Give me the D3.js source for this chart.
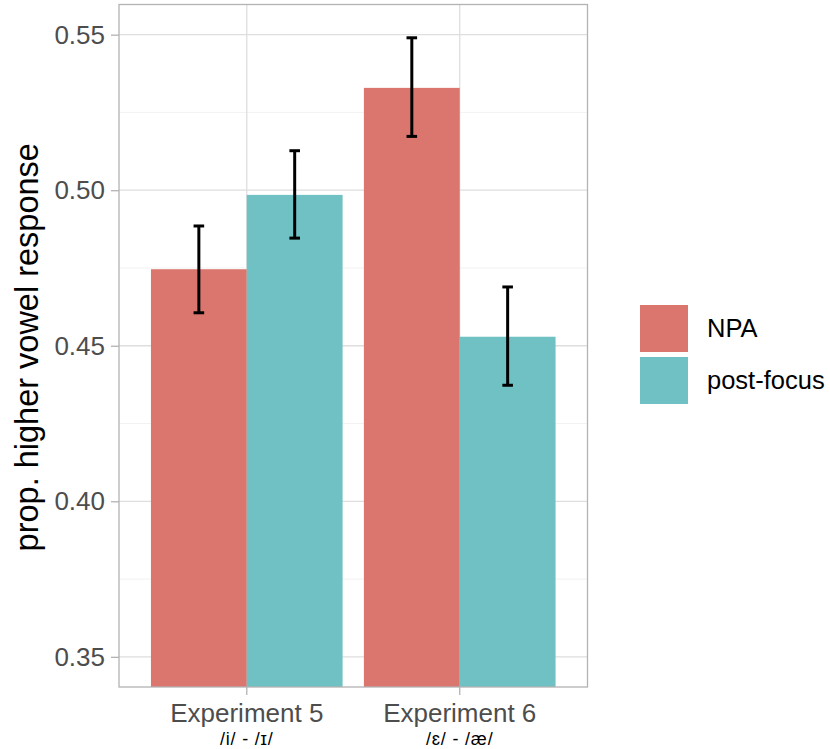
<!DOCTYPE html>
<html><head><meta charset="utf-8">
<script src="https://cdn.jsdelivr.net/npm/d3@7"></script>
<style>body{margin:0;background:#fff;} svg{display:block;font-family:"Liberation Sans",Arial,Helvetica,sans-serif;}</style>
</head><body>
<svg id="chart" width="830" height="749"></svg>
<script>
const categories = ["Experiment 5", "Experiment 6"];
const subLabels = ["/i/ - /ɪ/", "/ɛ/ - /æ/"];
const groups = ["NPA", "post-focus"];
const npaValues = [0.4746, 0.5329];
const npaLow = [0.4606, 0.5173];
const npaHigh = [0.4885, 0.5490];
const pfValues = [0.4985, 0.4529];
const pfLow = [0.4846, 0.4373];
const pfHigh = [0.5127, 0.4689];
const yTicks = [0.35, 0.40, 0.45, 0.50, 0.55];
const yMinor = [0.375, 0.425, 0.475, 0.525];
const colors = ["#da766d", "#6fc1c4"];

const data = [];
categories.forEach((c, i) => {
  data.push({cat: c, grp: groups[0], v: npaValues[i], lo: npaLow[i], hi: npaHigh[i]});
  data.push({cat: c, grp: groups[1], v: pfValues[i], lo: pfLow[i], hi: pfHigh[i]});
});

const svg = d3.select("#chart");
const P = {left: 119, right: 587.5, top: 4.5, bottom: 687};

const y = d3.scaleLinear().domain([0.3403, 0.5597]).range([P.bottom, P.top]);
const x = d3.scaleBand().domain(categories).range([P.left, P.right]).paddingInner(0.1).paddingOuter(0.15);
const xg = d3.scaleBand().domain(groups).range([0, x.bandwidth()]).padding(0);
const color = d3.scaleOrdinal().domain(groups).range(colors);

svg.append("defs").append("clipPath").attr("id", "clip")
  .append("rect").attr("x", P.left).attr("y", P.top).attr("width", P.right - P.left).attr("height", P.bottom - P.top);

const grid = svg.append("g");
grid.selectAll("line.minor").data(yMinor).join("line")
  .attr("x1", P.left).attr("x2", P.right)
  .attr("y1", d => y(d)).attr("y2", d => y(d))
  .attr("stroke", "#ececec").attr("stroke-width", 0.7);
grid.selectAll("line.major").data(yTicks).join("line")
  .attr("x1", P.left).attr("x2", P.right)
  .attr("y1", d => y(d)).attr("y2", d => y(d))
  .attr("stroke", "#dedede").attr("stroke-width", 1.3);
grid.selectAll("line.vmajor").data(categories).join("line")
  .attr("x1", d => x(d) + x.bandwidth() / 2).attr("x2", d => x(d) + x.bandwidth() / 2)
  .attr("y1", P.top).attr("y2", P.bottom)
  .attr("stroke", "#dedede").attr("stroke-width", 1.3);

const plot = svg.append("g").attr("clip-path", "url(#clip)");
plot.selectAll("rect.bar").data(data).join("rect")
  .attr("x", d => x(d.cat) + xg(d.grp))
  .attr("width", xg.bandwidth())
  .attr("y", d => y(d.v))
  .attr("height", d => P.bottom + 10 - y(d.v))
  .attr("fill", d => color(d.grp));

const eb = svg.append("g").attr("stroke", "#000").attr("stroke-width", 3);
const cap = 5.3;
data.forEach(d => {
  const cx = x(d.cat) + xg(d.grp) + xg.bandwidth() / 2;
  eb.append("line").attr("x1", cx).attr("x2", cx).attr("y1", y(d.hi)).attr("y2", y(d.lo));
  eb.append("line").attr("x1", cx - cap).attr("x2", cx + cap).attr("y1", y(d.hi)).attr("y2", y(d.hi));
  eb.append("line").attr("x1", cx - cap).attr("x2", cx + cap).attr("y1", y(d.lo)).attr("y2", y(d.lo));
});

svg.append("rect").attr("x", P.left).attr("y", P.top)
  .attr("width", P.right - P.left).attr("height", P.bottom - P.top)
  .attr("fill", "none").attr("stroke", "#b3b3b3").attr("stroke-width", 1.3);

// Y axis
const yAxis = svg.append("g").attr("transform", `translate(${P.left},0)`)
  .call(d3.axisLeft(y).tickValues(yTicks).tickFormat(d3.format(".2f")).tickSize(8).tickPadding(6));
yAxis.select(".domain").remove();
yAxis.selectAll(".tick line").attr("stroke", "#b3b3b3").attr("stroke-width", 1.3);
yAxis.selectAll(".tick text").attr("fill", "#4d4d4d").style("font-size", "26px")
  .style("font-family", "Liberation Sans, Arial, sans-serif");

// X axis
const xAxis = svg.append("g").attr("transform", `translate(0,${P.bottom})`)
  .call(d3.axisBottom(x).tickSize(8).tickPadding(6));
xAxis.select(".domain").remove();
xAxis.selectAll(".tick line").attr("stroke", "#b3b3b3").attr("stroke-width", 1.3);
xAxis.selectAll(".tick text").attr("fill", "#4d4d4d").style("font-size", "26px")
  .style("font-family", "Liberation Sans, Arial, sans-serif").attr("dy", "0.71em").attr("y", 17);
xAxis.selectAll(".tick").append("text")
  .attr("y", 57.5).attr("fill", "#000").attr("text-anchor", "middle")
  .style("font-size", "18px").style("font-family", "Liberation Sans, Arial, sans-serif")
  .attr("letter-spacing", "0.8px")
  .text((d, i) => subLabels[i]);

// Y title
svg.append("text")
  .attr("transform", `translate(38,${(P.top + P.bottom) / 2 + 1.5}) rotate(-90)`)
  .attr("text-anchor", "middle").attr("fill", "#000")
  .style("font-size", "32.5px")
  .text("prop. higher vowel response");

// Legend
const leg = svg.append("g").attr("transform", "translate(640,305)");
groups.forEach((g, i) => {
  leg.append("rect").attr("x", 0).attr("y", i * 52).attr("width", 48).attr("height", 47).attr("fill", color(g));
  leg.append("text").attr("x", 67).attr("y", i * 52 + 23.5).attr("dy", "0.35em")
    .attr("fill", "#000").style("font-size", "25.5px").text(g);
});
</script>
</body></html>
